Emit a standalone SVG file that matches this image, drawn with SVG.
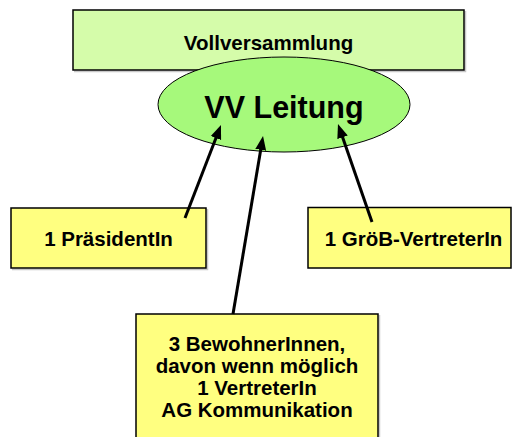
<svg xmlns="http://www.w3.org/2000/svg" width="512" height="437" viewBox="0 0 512 437">
<style>
text{font-family:"Liberation Sans",Arial,sans-serif;font-weight:bold;fill:#000;text-anchor:middle}
.t{font-size:20.5px}
.box{fill:#ffff80;stroke:#000;stroke-width:1.5}
.shadow{fill:none;stroke:#c8c8c8;stroke-width:1.5}
.conn{stroke:#000;stroke-width:3;fill:none}
</style>
<defs>
<marker id="ah" markerUnits="userSpaceOnUse" markerWidth="16" markerHeight="12" viewBox="0 -6 16 12" refX="6" refY="0" orient="auto">
<path d="M0,-5.5 L14,0 L0,5.5 z" fill="#000"/>
</marker>
</defs>
<rect width="512" height="437" fill="#fff"/>
<g id="vollversammlung">
<polyline class="shadow" points="465.5,11 465.5,71.5 74,71.5"/>
<rect x="73" y="10" width="391" height="60" fill="#d5fcaa" stroke="#000" stroke-width="1.5"/>
<text class="t" x="268.5" y="50">Vollversammlung</text>
</g>
<g id="vv-leitung">
<ellipse cx="284" cy="104.5" rx="126" ry="47.5" fill="#a6f97b" stroke="#000" stroke-width="1"/>
<text x="284" y="118" style="font-size:30.5px">VV Leitung</text>
</g>
<g id="praesidentin">
<polyline class="shadow" points="207.5,209 207.5,269.5 12,269.5"/>
<rect class="box" x="11" y="208" width="195" height="60"/>
<text class="t" x="108.5" y="246">1 PräsidentIn</text>
</g>
<g id="groeb">
<rect class="box" x="308" y="207.5" width="203" height="60.5"/>
<text class="t" x="413.5" y="246">1 GröB-VertreterIn</text>
</g>
<g id="bewohner">
<polyline class="shadow" points="379.5,315 379.5,437"/>
<rect class="box" x="136" y="314" width="242" height="130"/>
<text class="t" x="257" y="351">3 BewohnerInnen,</text>
<text class="t" x="257" y="373">davon wenn möglich</text>
<text class="t" x="257" y="395">1 VertreterIn</text>
<text class="t" x="257" y="417">AG Kommunikation</text>
</g>
<g id="connectors">
<line class="conn" x1="185" y1="218" x2="218.1" y2="132.5" marker-end="url(#ah)"/>
<line class="conn" x1="233" y1="314" x2="261.7" y2="143.9" marker-end="url(#ah)"/>
<line class="conn" x1="372" y1="222" x2="340.6" y2="131.6" marker-end="url(#ah)"/>
</g>
</svg>
